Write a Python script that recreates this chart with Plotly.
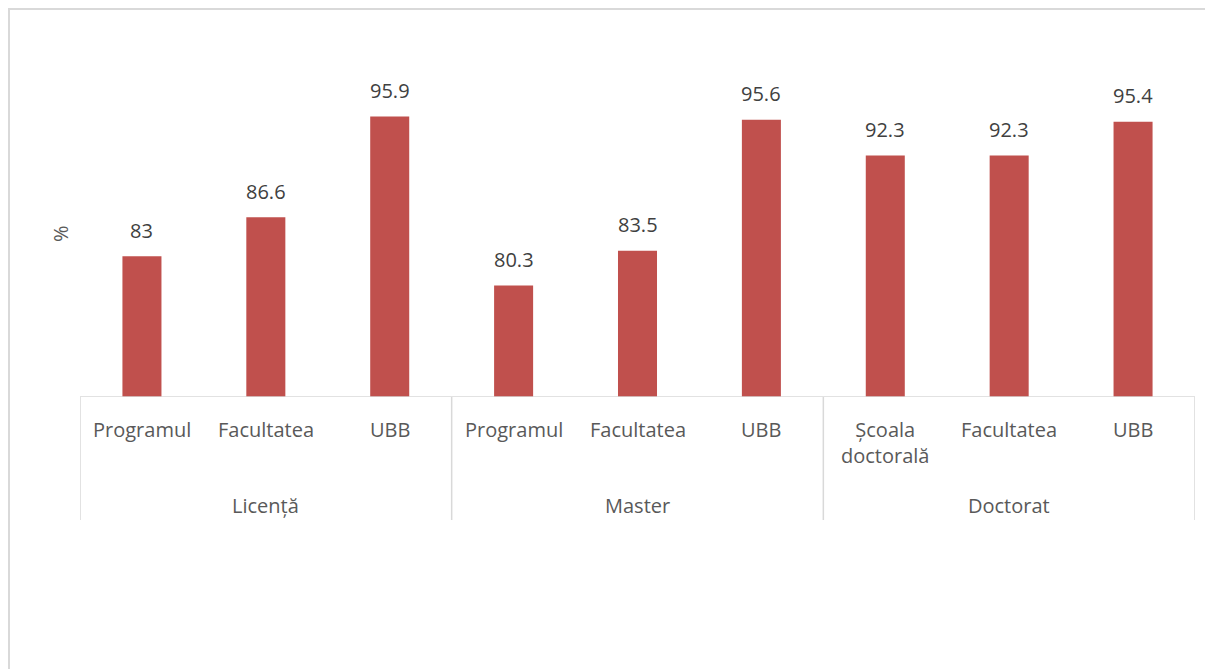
import plotly.graph_objects as go

categories = ["Programul", "Facultatea", "UBB",
              "Programul", "Facultatea", "UBB",
              "Școala<br>doctorală", "Facultatea", "UBB"]
groups = ["Licență", "Master", "Doctorat"]
values = [83, 86.6, 95.9, 80.3, 83.5, 95.6, 92.3, 92.3, 95.4]
value_labels = ["83", "86.6", "95.9", "80.3", "83.5", "95.6", "92.3", "92.3", "95.4"]

x_pos = list(range(len(values)))
FONT = "Open Sans"
FS = 20
BAR = "#C0504D"
LINE = "#D9D9D9"
PLOT_H = 325

fig = go.Figure()
fig.add_trace(go.Bar(
    x=x_pos, y=values, width=0.315,
    marker=dict(color=BAR, line=dict(width=0)),
    hoverinfo="skip",
))

shapes = []
shapes.append(dict(type="line", xref="x", yref="y", x0=-0.5, x1=8.5, y0=70, y1=70,
                   line=dict(color=LINE, width=1.5)))
for xv in [-0.5, 2.5, 5.5, 8.5]:
    shapes.append(dict(type="line", xref="x", yref="paper", x0=xv, x1=xv, y0=0, y1=-123 / PLOT_H,
                       line=dict(color=LINE, width=1.5)))
shapes.append(dict(type="rect", xref="paper", yref="paper", x0=-0.0637, x1=1.05,
                   y0=(397 - 9) / PLOT_H, y1=-1.2,
                   line=dict(color=LINE, width=2), layer="below"))

annotations = []
for i, (v, lab) in enumerate(zip(values, value_labels)):
    annotations.append(dict(x=i, y=v, xref="x", yref="y", text=lab, showarrow=False,
                            yanchor="middle", yshift=26,
                            font=dict(family=FONT, size=FS, color="#404040")))
for i, cat in enumerate(categories):
    annotations.append(dict(x=i, y=0, xref="x", yref="paper", text=cat, showarrow=False,
                            yanchor="top", yshift=-17,
                            font=dict(family=FONT, size=FS, color="#595959")))
for gi, g in enumerate(groups):
    annotations.append(dict(x=gi * 3 + 1, y=0, xref="x", yref="paper", text=g, showarrow=False,
                            yanchor="middle", yshift=-108,
                            font=dict(family=FONT, size=FS, color="#595959")))
annotations.append(dict(x=0, y=(397 - 234) / PLOT_H, xref="paper", yref="paper", text="%",
                        showarrow=False, textangle=-90, xanchor="center", yanchor="middle",
                        xshift=-20,
                        font=dict(family=FONT, size=FS, color="#595959")))

fig.update_layout(
    width=1213, height=669,
    margin=dict(l=72, r=26, t=64, b=280),
    paper_bgcolor="white", plot_bgcolor="white",
    showlegend=False,
    xaxis=dict(range=[-0.5, 8.5], showticklabels=False, showgrid=False, zeroline=False,
               showline=False, ticks=""),
    yaxis=dict(range=[70, 100], visible=False),
    shapes=shapes, annotations=annotations,
)
fig.write_html("out.html")
